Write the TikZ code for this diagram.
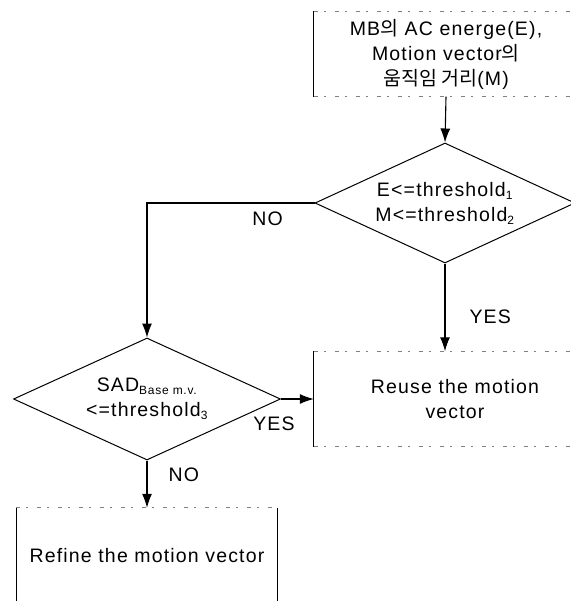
\documentclass[tikz,border=0pt]{standalone}
\usepackage{fontspec}
\setmainfont{Liberation Sans}[LetterSpace=6]
\newfontfamily\krfont{Noto Sans CJK KR}
\usetikzlibrary{arrows.meta}
\usetikzlibrary{positioning}
\usetikzlibrary{shapes.geometric}
\newcommand\scanbox[1]{% box name
  \draw[side] (#1.north west) -- (#1.south west);
  \draw[side] (#1.north east) -- (#1.south east);
  \draw[rim] (#1.north west) -- (#1.north east);
  \draw[rim] (#1.south west) -- (#1.south east);
}
\newcommand\low[1]{\textsubscript{\fontsize{12}{12}\selectfont #1}}

\begin{document}
\begin{tikzpicture}[x=1pt,y=-1pt,every node/.style={font=\fontsize{19.5}{25}\selectfont}]
  \tikzset{line/.style={draw, -{Latex[length=14pt,width=10pt]}, line width=1.1pt}}
  \tikzset{decision/.style={diamond, draw, line width=1pt, aspect=2.1, inner sep=0pt, align=center}}
  \tikzset{block/.style={rectangle, align=center, inner sep=0pt}}
  \tikzset{lbl/.style={inner sep=0pt}}
  \tikzset{side/.style={draw, line width=1.1pt}}
  \tikzset{rim/.style={draw, gray, line width=0.8pt, dash pattern=on 4pt off 6pt on 2pt off 9pt}}

  \useasboundingbox (0,0) rectangle (570,601);

  \node[block, minimum width=264pt, minimum height=85pt] (input) at (446,54)
    {MB{\krfont 의} AC energe(E),\\ Motion vector{\krfont 의}\\ {\krfont 움직임 거리}(M)};
  \node[decision, minimum width=260pt, minimum height=120pt] (cond1) at (445,203)
    {E<=threshold\low{1}\\ M<=threshold\low{2}};
  \node[decision, minimum width=267pt, minimum height=122pt] (cond2) at (147,399)
    {SAD\low{Base m.v.}\\ <=threshold\low{3}};
  \node[block, minimum width=282pt, minimum height=95pt] (reuse) at (455,399)
    {Reuse the motion\\ vector};
  \node[block, minimum width=261pt, minimum height=95pt] (refine) at (147,555.5)
    {Refine the motion vector};

  \scanbox{input}
  \scanbox{reuse}
  \scanbox{refine}

  \path[line] (input.south) -- (cond1.north);
  \path[line] (cond1.west) -| node[lbl, pos=0.14, below=8pt] {NO} (cond2.north);
  \path[line] (cond1.south) -- node[lbl, pos=0.61, right=24pt] {YES} (cond1.south |- reuse.north);
  \path[line] (cond2.east) -- node[lbl, at start, anchor=north, xshift=-7pt, yshift=-17pt] {YES} (cond2.east -| reuse.west);
  \path[line] (cond2.south) -- node[lbl, pos=0.3, right=21pt] {NO} (refine.north);

\end{tikzpicture}
\end{document}
